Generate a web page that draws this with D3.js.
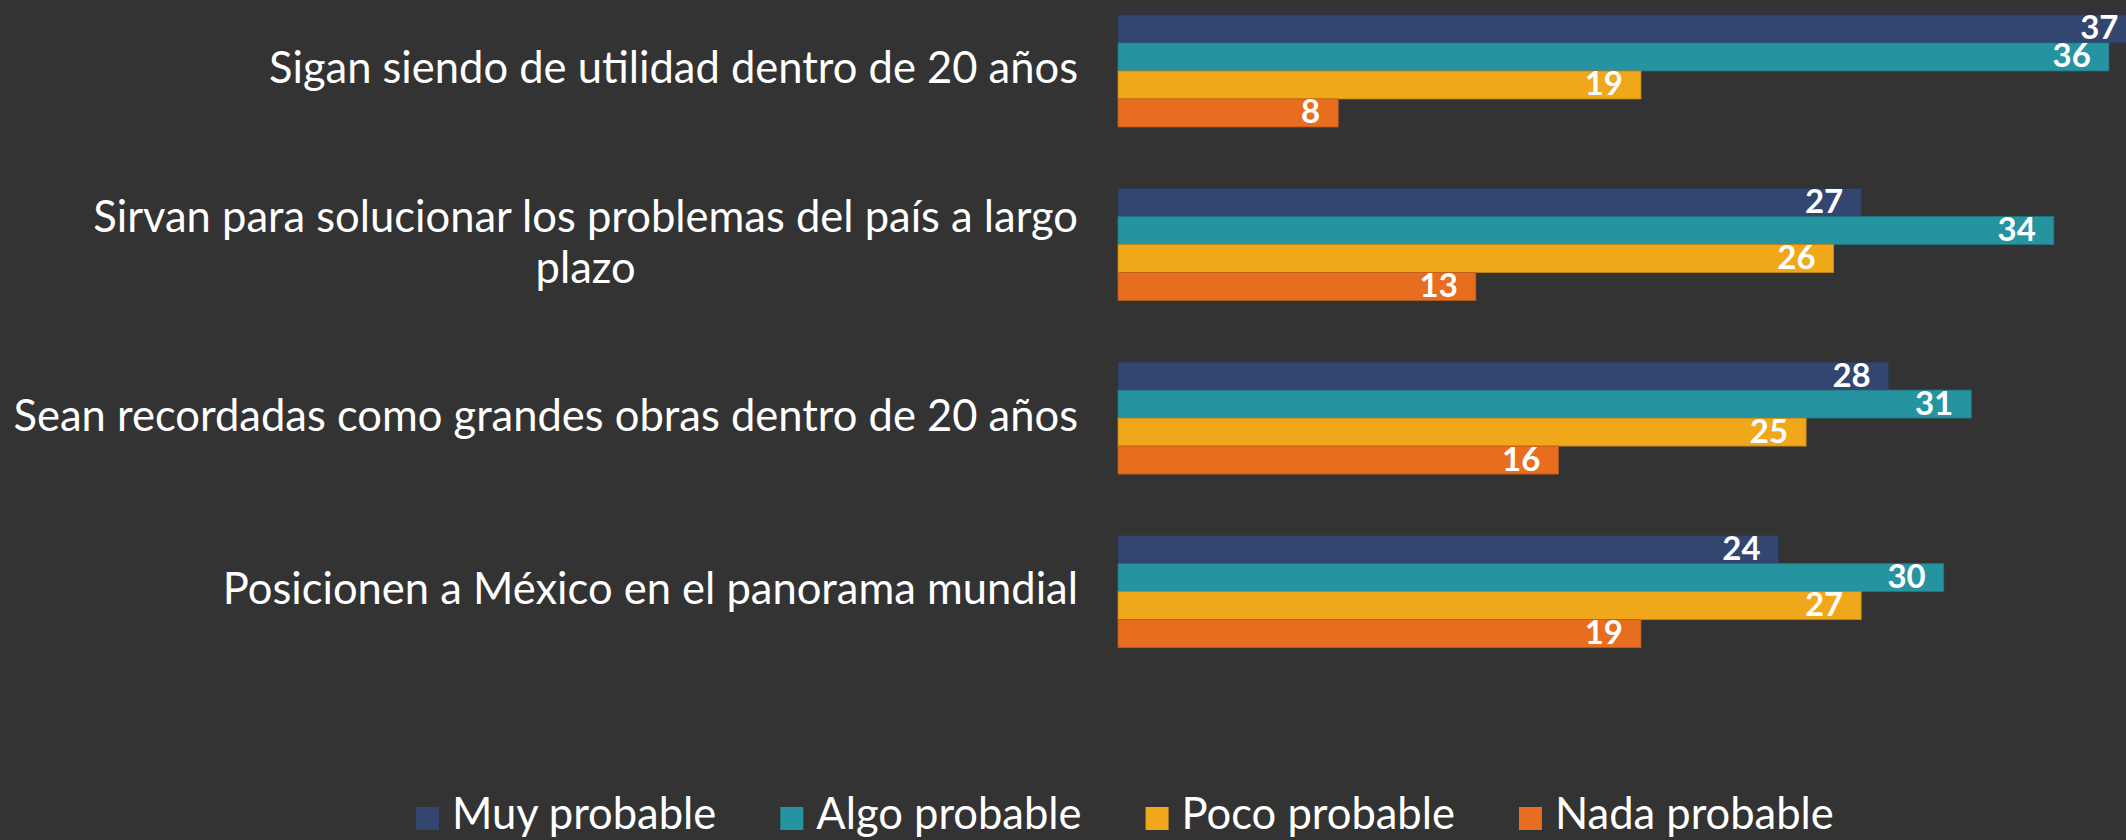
<!DOCTYPE html>
<html>
<head>
<meta charset="utf-8">
<script src="https://cdn.jsdelivr.net/npm/d3@7"></script>
<style>
  html, body { margin: 0; padding: 0; background: #333333; }
  svg { display: block; }
</style>
</head>
<body>
<div id="chart"></div>
<script>
// data
const categories = [
  'Sigan siendo de utilidad dentro de 20 años',
  'Sirvan para solucionar los problemas del país a largo\nplazo',
  'Sean recordadas como grandes obras dentro de 20 años',
  'Posicionen a México en el panorama mundial'
];
const seriesNames = ['Muy probable', 'Algo probable', 'Poco probable', 'Nada probable'];
const muyProbable = [37, 27, 28, 24];
const algoProbable = [36, 34, 31, 30];
const pocoProbable = [19, 26, 25, 27];
const nadaProbable = [8, 13, 16, 19];
const seriesColors = ['#334670', '#2694a0', '#f0a71a', '#e86e1f'];

const W = 2126, H = 840;
const FONT = "Lato, 'Open Sans', 'DejaVu Sans', sans-serif";
const seriesValues = [muyProbable, algoProbable, pocoProbable, nadaProbable];

const svg = d3.select('#chart').append('svg')
  .attr('width', W)
  .attr('height', H);

svg.append('rect').attr('width', W).attr('height', H).attr('fill', '#333333');

const x = d3.scaleLinear().domain([0, 40]).range([1118, 2219]);

const y = d3.scaleBand()
  .domain(d3.range(categories.length))
  .range([-15.8, 678.4])
  .paddingInner(0.3547)
  .paddingOuter(0.1773);

const ySub = d3.scaleBand()
  .domain(d3.range(seriesNames.length))
  .range([0, y.bandwidth()]);

// bars
const groups = svg.append('g').selectAll('g')
  .data(categories)
  .join('g')
  .attr('transform', (d, i) => `translate(0,${y(i)})`);

groups.each(function(cat, ci) {
  const g = d3.select(this);
  seriesValues.forEach((vals, si) => {
    const v = vals[ci];
    g.append('rect')
      .attr('x', x(0))
      .attr('y', ySub(si))
      .attr('width', x(v) - x(0))
      .attr('height', ySub.bandwidth())
      .attr('fill', seriesColors[si])
      .attr('stroke', d3.color(seriesColors[si]).darker(0.6))
      .attr('stroke-width', 0.8);
  });
  // value labels, inside end
  seriesValues.forEach((vals, si) => {
    const v = vals[ci];
    g.append('text')
      .attr('x', x(v) - 18)
      .attr('y', ySub(si) + ySub.bandwidth() / 2 + 10.5)
      .attr('text-anchor', 'end')
      .attr('fill', '#ffffff')
      .attr('font-family', FONT)
      .attr('font-weight', 700)
      .attr('font-size', '33px')
      .text(v);
  });
});

// category labels: block right aligned, lines centred inside the block
const labelRight = 1078;
const lineH = 51;
categories.forEach((cat, ci) => {
  const lines = cat.split('\n');
  const cy = y(ci) + y.bandwidth() / 2 + 12.5;
  const t = svg.append('text')
    .attr('fill', '#ffffff')
    .attr('font-family', FONT)
    .attr('font-size', '43.5px')
    .attr('text-anchor', 'middle');
  const spans = lines.map((ln, li) => t.append('tspan')
    .attr('y', cy + (li - (lines.length - 1) / 2) * lineH)
    .text(ln));
  const maxW = d3.max(spans, s => s.node().getComputedTextLength());
  spans.forEach(s => s.attr('x', labelRight - maxW / 2));
});

// legend
const legend = svg.append('g').attr('transform', 'translate(416,829)');
let lx = 0;
seriesNames.forEach((name, si) => {
  legend.append('rect')
    .attr('x', lx)
    .attr('y', -22)
    .attr('width', 23)
    .attr('height', 23)
    .attr('fill', seriesColors[si]);
  const t = legend.append('text')
    .attr('x', lx + 36)
    .attr('y', 0)
    .attr('fill', '#ffffff')
    .attr('font-family', FONT)
    .attr('font-size', '43.5px')
    .text(name);
  lx += 36 + t.node().getComputedTextLength() + 64;
});
</script>
</body>
</html>
